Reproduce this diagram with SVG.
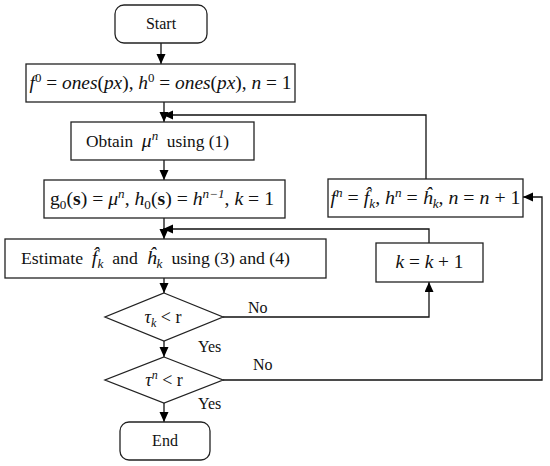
<svg xmlns="http://www.w3.org/2000/svg" width="550" height="466" viewBox="0 0 550 466">
<style>
.box{fill:#fff;stroke:#222;stroke-width:1.3}
.ln{fill:none;stroke:#111;stroke-width:1.3}
.t{font-family:"Liberation Serif","Times New Roman",serif;font-size:16px;fill:#111}
.m{font-family:"Liberation Serif","Times New Roman",serif;font-size:18px;fill:#111;font-style:italic}
.u{font-style:normal}
.sup{font-size:12px}
</style>
<defs>
<marker id="ah" markerUnits="userSpaceOnUse" markerWidth="10" markerHeight="10" refX="10" refY="4.5" orient="auto">
<path d="M0,0 L10,4.5 L0,9 z" fill="#000"/>
</marker>
</defs>
<rect width="550" height="466" fill="#fff"/>
<g id="connectors">
<path class="ln" d="M161,43 V64" marker-end="url(#ah)"/>
<path class="ln" d="M164,102 V122" marker-end="url(#ah)"/>
<path class="ln" d="M426,179 V115 H163" marker-end="url(#ah)"/>
<path class="ln" d="M164,160 V180" marker-end="url(#ah)"/>
<path class="ln" d="M164,218 V239" marker-end="url(#ah)"/>
<path class="ln" d="M429,243 V229 H163" marker-end="url(#ah)"/>
<path class="ln" d="M164,278 V293" marker-end="url(#ah)"/>
<path class="ln" d="M223,317 H429 V282" marker-end="url(#ah)"/>
<path class="ln" d="M164,341 V357" marker-end="url(#ah)"/>
<path class="ln" d="M223,380 H542 V197 H523" marker-end="url(#ah)"/>
<path class="ln" d="M164,403 V422" marker-end="url(#ah)"/>
<text class="t" x="248" y="313">No</text>
<text class="t" x="253" y="370">No</text>
<text class="t" x="198" y="352">Yes</text>
<text class="t" x="198" y="409">Yes</text>
</g>
<g id="start">
<rect class="box" x="115" y="5" width="92" height="38" rx="9"/>
<text class="t" x="161" y="29" text-anchor="middle">Start</text>
</g>
<g id="init">
<rect class="box" x="26" y="64" width="269" height="38"/>
<text class="m" x="160.5" y="89" text-anchor="middle" textLength="262" lengthAdjust="spacingAndGlyphs">f<tspan class="u sup" dy="-7">0</tspan><tspan dy="7"><tspan class="u"> = </tspan>ones<tspan class="u">(</tspan>px<tspan class="u">), </tspan>h</tspan><tspan class="u sup" dy="-7">0</tspan><tspan dy="7"><tspan class="u"> = </tspan>ones<tspan class="u">(</tspan>px<tspan class="u">), </tspan>n<tspan class="u"> = 1</tspan></tspan></text>
</g>
<g id="obtain">
<rect class="box" x="71" y="122" width="183" height="38"/>
<text class="t" x="157.5" y="147" text-anchor="middle" font-size="17" xml:space="preserve" textLength="143" lengthAdjust="spacingAndGlyphs">Obtain  <tspan font-style="italic" font-size="18">μ</tspan><tspan class="sup" font-style="italic" dy="-7">n</tspan><tspan dy="7">  using (1)</tspan></text>
</g>
<g id="g0">
<rect class="box" x="44" y="180" width="241" height="38"/>
<text class="m" x="162" y="205" text-anchor="middle" textLength="224" lengthAdjust="spacingAndGlyphs"><tspan class="u">g</tspan><tspan class="u sup" dy="4">0</tspan><tspan class="u" dy="-4">(<tspan font-weight="bold">s</tspan>) = </tspan>μ<tspan class="sup" dy="-7">n</tspan><tspan dy="7"><tspan class="u">, </tspan>h</tspan><tspan class="u sup" dy="4">0</tspan><tspan class="u" dy="-4">(<tspan font-weight="bold">s</tspan>) = </tspan>h<tspan class="sup" dy="-7">n−1</tspan><tspan dy="7"><tspan class="u">, </tspan>k<tspan class="u"> = 1</tspan></tspan></text>
</g>
<g id="update-n">
<rect class="box" x="328" y="179" width="195" height="38"/>
<text class="m" x="425.5" y="204" text-anchor="middle" textLength="190" lengthAdjust="spacingAndGlyphs">f<tspan class="sup" dy="-7">n</tspan><tspan dy="7"><tspan class="u"> = </tspan>f̂</tspan><tspan class="sup" dy="4">k</tspan><tspan dy="-4"><tspan class="u">, </tspan>h</tspan><tspan class="sup" dy="-7">n</tspan><tspan dy="7"><tspan class="u"> = </tspan>ĥ</tspan><tspan class="sup" dy="4">k</tspan><tspan dy="-4"><tspan class="u">, </tspan>n<tspan class="u"> = </tspan>n<tspan class="u"> + 1</tspan></tspan></text>
</g>
<g id="estimate">
<rect class="box" x="5" y="239" width="321" height="39"/>
<text class="t" x="155.5" y="264" text-anchor="middle" font-size="17" xml:space="preserve" textLength="269" lengthAdjust="spacingAndGlyphs">Estimate  <tspan font-style="italic" font-size="18">f̂</tspan><tspan class="sup" font-style="italic" dy="4">k</tspan><tspan dy="-4">  and  </tspan><tspan font-style="italic" font-size="18">ĥ</tspan><tspan class="sup" font-style="italic" dy="4">k</tspan><tspan dy="-4">  using (3) and (4)</tspan></text>
</g>
<g id="k-inc">
<rect class="box" x="376" y="243" width="107" height="39"/>
<text class="m" x="429.5" y="268" text-anchor="middle" textLength="68" lengthAdjust="spacingAndGlyphs">k<tspan class="u"> = </tspan>k<tspan class="u"> + 1</tspan></text>
</g>
<g id="cond-k">
<polygon class="box" points="164,293 223,317 164,341 105,317"/>
<text class="m" x="163" y="323" text-anchor="middle" font-size="19">τ<tspan class="sup" dy="4">k</tspan><tspan class="u" dy="-4"> &lt; r</tspan></text>
</g>
<g id="cond-n">
<polygon class="box" points="164,357 223,380 164,403 105,380"/>
<text class="m" x="164" y="386" text-anchor="middle" font-size="19">τ<tspan class="sup" dy="-7">n</tspan><tspan class="u" dy="7"> &lt; r</tspan></text>
</g>
<g id="end">
<rect class="box" x="120" y="422" width="90" height="38" rx="9"/>
<text class="t" x="165" y="446" text-anchor="middle">End</text>
</g>
</svg>
